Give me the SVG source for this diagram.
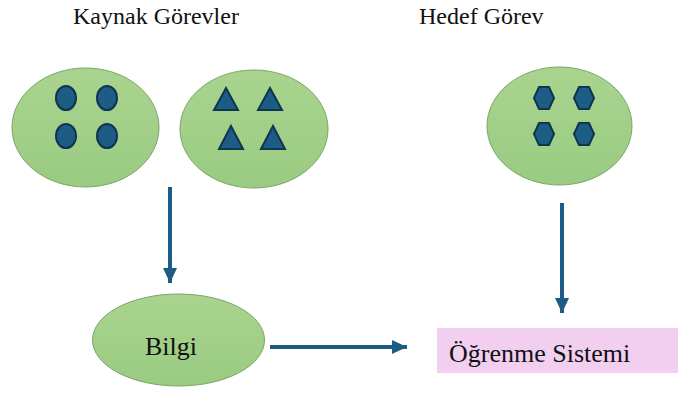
<svg xmlns="http://www.w3.org/2000/svg" width="678" height="399" viewBox="0 0 678 399">
  <style>
    text { font-family: 'Liberation Serif', 'DejaVu Serif', serif; fill: #111; }
    .title { font-size: 24px; }
    .label { font-size: 26px; }
    .blob { fill: url(#greenFill); stroke: #7aa565; stroke-width: 1; }
    .mark { fill: #1d5c84; stroke: #0f3550; stroke-width: 2; }
    .edge { stroke: #1d5c84; stroke-width: 4; fill: none; }
  </style>
  <defs>
    <linearGradient id="greenFill" x1="0" y1="0" x2="0" y2="1">
      <stop offset="0" stop-color="#a9d48f"/>
      <stop offset="1" stop-color="#9acb82"/>
    </linearGradient>
    <marker id="arrowhead" markerUnits="userSpaceOnUse" markerWidth="16" markerHeight="16" refX="15" refY="8" orient="auto">
      <path d="M0,1 L15,8 L0,15 Z" fill="#1d5c84"/>
    </marker>
  </defs>

  <text class="title" x="73" y="24">Kaynak Görevler</text>
  <text class="title" x="419" y="24">Hedef Görev</text>

  <g id="source-task-circles">
    <ellipse class="blob" cx="85.5" cy="127.5" rx="73.5" ry="59.5"/>
    <ellipse class="mark" cx="66" cy="98" rx="10" ry="12"/>
    <ellipse class="mark" cx="107" cy="98" rx="10" ry="12"/>
    <ellipse class="mark" cx="66" cy="136" rx="10" ry="12"/>
    <ellipse class="mark" cx="107" cy="136" rx="10" ry="12"/>
  </g>

  <g id="source-task-triangles">
    <ellipse class="blob" cx="254" cy="129" rx="74" ry="59"/>
    <polygon class="mark" points="226,88 238,110 214,110"/>
    <polygon class="mark" points="270,88 282,110 258,110"/>
    <polygon class="mark" points="231,126 243,149 219,149"/>
    <polygon class="mark" points="273,126 285,149 261,149"/>
  </g>

  <g id="target-task">
    <ellipse class="blob" cx="559.5" cy="126" rx="72.5" ry="59"/>
    <polygon class="mark" points="539,87 549,87 554,98 549,109 539,109 534,98"/>
    <polygon class="mark" points="579,87 589,87 594,98 589,109 579,109 574,98"/>
    <polygon class="mark" points="539,123 549,123 554,134 549,145 539,145 534,134"/>
    <polygon class="mark" points="579,123 589,123 594,134 589,145 579,145 574,134"/>
  </g>

  <g id="knowledge">
    <ellipse class="blob" cx="178.5" cy="340" rx="86" ry="46"/>
    <text class="label" x="145" y="355">Bilgi</text>
  </g>

  <g id="learning-system">
    <rect x="437" y="328" width="241" height="45" fill="#f2cef0"/>
    <text class="label" x="449" y="362" font-size="27">Öğrenme Sistemi</text>
  </g>

  <g id="connectors">
    <line class="edge" x1="170" y1="187" x2="170" y2="283" marker-end="url(#arrowhead)"/>
    <line class="edge" x1="270" y1="347" x2="407" y2="347" marker-end="url(#arrowhead)"/>
    <line class="edge" x1="562" y1="203" x2="562" y2="313" marker-end="url(#arrowhead)"/>
  </g>
</svg>
